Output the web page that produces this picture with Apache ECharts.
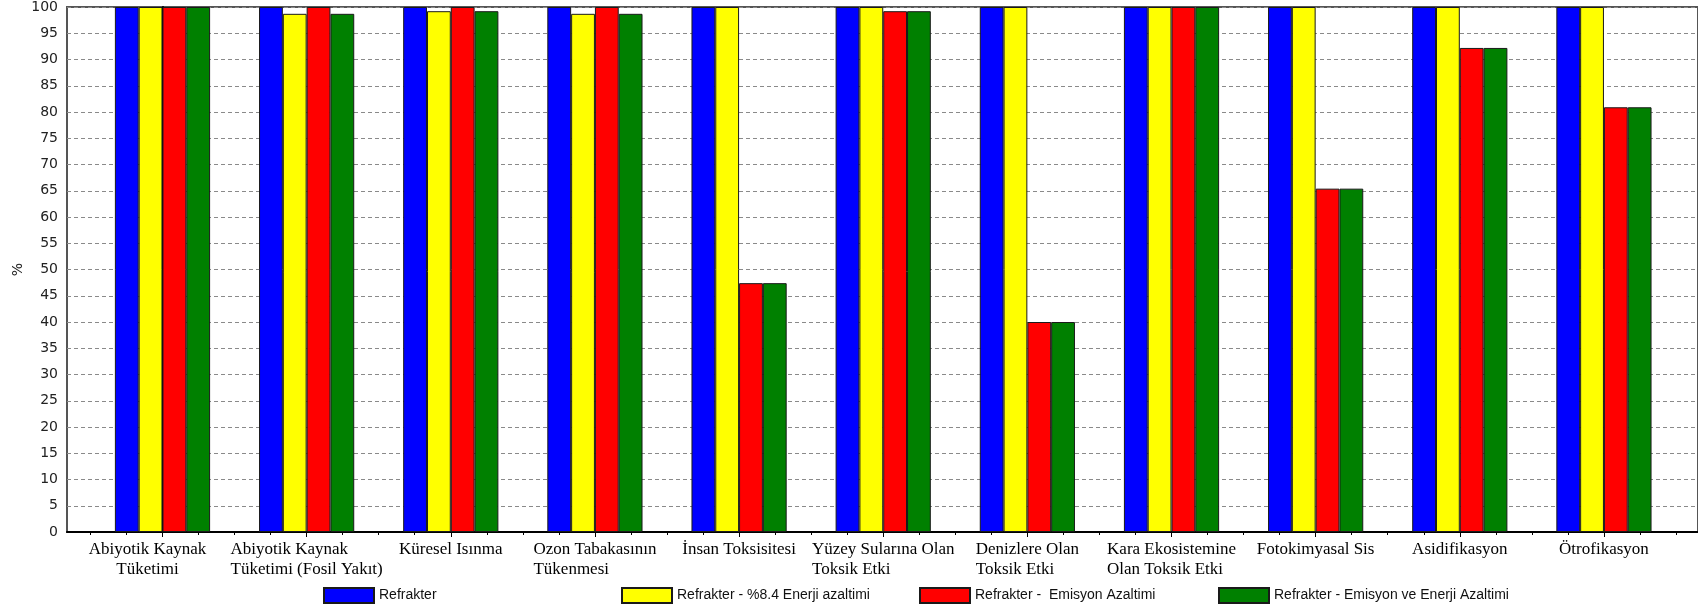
<!DOCTYPE html>
<html>
<head>
<meta charset="utf-8">
<script src="https://cdn.jsdelivr.net/npm/echarts@6/dist/echarts.min.js"></script>
<style>
  html, body { margin: 0; padding: 0; background: #fff; }
  #chart { width: 1698px; height: 610px; }
</style>
</head>
<body>
<div id="chart"></div>
<script>
// Impact categories (x axis), one group of four bars each
const categories = [
  'Abiyotik Kaynak\nTüketimi',
  'Abiyotik Kaynak\nTüketimi (Fosil Yakıt)',
  'Küresel Isınma',
  'Ozon Tabakasının\nTükenmesi',
  'İnsan Toksisitesi',
  'Yüzey Sularına Olan\nToksik Etki',
  'Denizlere Olan\nToksik Etki',
  'Kara Ekosistemine\nOlan Toksik Etki',
  'Fotokimyasal Sis',
  'Asidifikasyon',
  'Ötrofikasyon'
];

const seriesNames = [
  'Refrakter',
  'Refrakter - %8.4 Enerji azaltimi',
  'Refrakter -  Emisyon Azaltimi',
  'Refrakter - Emisyon ve Enerji Azaltimi'
];
const seriesColors = ['#0000ff', '#ffff00', '#ff0000', '#008000'];

// Relative impact, %
const refrakter         = [100, 100, 100, 100, 100, 100, 100, 100, 100, 100, 100];
const enerjiAzaltimi    = [100, 98.7, 99.2, 98.7, 100, 100, 100, 100, 100, 100, 100];
const emisyonAzaltimi   = [100, 100, 100, 100, 47.4, 99.2, 40.0, 100, 65.4, 92.2, 80.9];
const emisyonVeEnerji   = [100, 98.7, 99.2, 98.7, 47.4, 99.2, 40.0, 100, 65.4, 92.2, 80.9];
const seriesValues = [refrakter, enerjiAzaltimi, emisyonAzaltimi, emisyonVeEnerji];

// Legend item left offsets
const legendLefts = [323, 621, 919, 1218];

const catIdx = categories.map((_, i) => i);
const evenIdx = catIdx.filter(i => i % 2 === 0);
const oddIdx = catIdx.filter(i => i % 2 === 1);
const quarterTicks = [];
for (let q = -2; q <= 42; q++) quarterTicks.push(q / 4);

const X_MIN = -0.6625, X_MAX = 10.6525;
const gridBox = { left: 67, top: 5, right: -2, bottom: 78 };

const chart = echarts.init(document.getElementById('chart'));

const labelFont = { fontFamily: 'Liberation Serif', fontSize: 17, lineHeight: 20, color: '#000' };

// Multi-line category label: lines left-aligned inside a block centred on the tick
function categoryLabel(v) {
  const k = Math.round(v);
  const style = k === 0 ? 'c' : 't';
  return categories[k].split('\n').map(l => '{' + style + '|' + l + '}').join('\n');
}
const labelRich = {
  t: Object.assign({ align: 'left' }, labelFont),
  c: Object.assign({ align: 'center', padding: [0, 30, 0, 0] }, labelFont)
};

const option = {
  animation: false,
  backgroundColor: '#ffffff',
  grid: [
    Object.assign({ show: true, borderColor: '#555', borderWidth: 2, backgroundColor: 'transparent' }, gridBox),
    Object.assign({ show: false }, gridBox)
  ],
  legend: seriesNames.map((name, i) => ({
    data: [name],
    left: legendLefts[i],
    top: 587,
    padding: 0,
    itemWidth: 50,
    itemHeight: 15,
    itemGap: 0,
    icon: 'rect',
    textStyle: { fontFamily: 'Liberation Sans', fontSize: 14, color: '#111' }
  })),
  xAxis: [
    {
      type: 'value',
      gridIndex: 0,
      min: X_MIN,
      max: X_MAX,
      axisLine: { show: true, onZero: false, lineStyle: { color: '#000', width: 2 } },
      axisTick: { show: true, customValues: quarterTicks, length: 3, lineStyle: { color: '#000' } },
      splitLine: { show: false },
      axisLabel: {
        customValues: evenIdx,
        margin: 8,
        hideOverlap: false,
        formatter: categoryLabel,
        rich: labelRich
      }
    },
    {
      type: 'value',
      gridIndex: 1,
      min: X_MIN,
      max: X_MAX,
      position: 'bottom',
      axisLine: { show: false },
      axisTick: { show: true, customValues: catIdx, length: 5, lineStyle: { color: '#000' } },
      axisLabel: {
        customValues: oddIdx,
        margin: 8,
        hideOverlap: false,
        formatter: categoryLabel,
        rich: labelRich
      },
      splitLine: { show: false }
    }
  ],
  yAxis: [
    {
      type: 'value',
      gridIndex: 0,
      min: 0,
      max: 100,
      interval: 5,
      name: '%',
      nameLocation: 'middle',
      nameRotate: 90,
      nameGap: 42,
      nameMoveOverlap: false,
      nameTextStyle: { fontFamily: 'DejaVu Sans', fontSize: 14, color: '#222' },
      axisLine: { show: true, lineStyle: { color: '#000', width: 2 } },
      axisTick: { show: true, length: 5, lineStyle: { color: '#000' } },
      axisLabel: { margin: 9, fontFamily: 'DejaVu Sans', fontSize: 14, color: '#222' },
      splitLine: { show: true, lineStyle: { color: '#8a8a8a', type: [4, 3], width: 1 } }
    },
    {
      type: 'value',
      gridIndex: 1,
      min: 0,
      max: 100,
      show: false
    }
  ],
  series: seriesNames.map((name, s) => ({
    name: name,
    type: 'bar',
    xAxisIndex: 0,
    yAxisIndex: 0,
    barWidth: 23.8,
    barGap: '0%',
    itemStyle: { color: seriesColors[s], borderColor: '#1a1a1a', borderWidth: 1 },
    data: seriesValues[s].map((v, i) => [i, v])
  }))
};

chart.setOption(option);
</script>
</body>
</html>
